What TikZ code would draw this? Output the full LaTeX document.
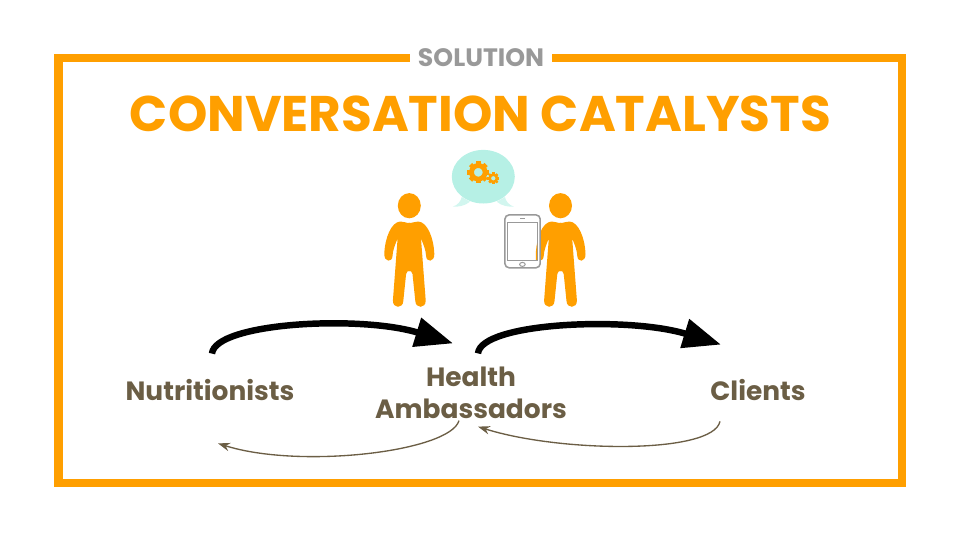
\documentclass[tikz,border=0pt]{standalone}
\usepackage{fontspec}
\setmainfont{Poppins}
\usetikzlibrary{arrows.meta}
\definecolor{Frame}{HTML}{FF9F00}
\definecolor{Umber}{HTML}{6B5E45}
\definecolor{Slate}{HTML}{999999}
\definecolor{Bubble}{HTML}{B6F0E5}
\definecolor{BubbleTail}{HTML}{D2F6EF}
\tikzset{
  bigflow/.style={-{Triangle[length=27,width=20.5]},line width=4.6,draw=black},
  thinflow/.style={-{Stealth[length=8.5,width=6]},line width=0.95,draw=Umber},
  actor/.style={align=center,text=Umber,inner sep=0pt,font=\fontsize{18.8}{22.8}\selectfont\bfseries},
  pics/person/.style={code={
    \fill[Frame] (0,205.7) ellipse (11.5 and 12.6);
    \foreach \side in {1,-1}{
      \fill[Frame,xscale=\side] (-0.5,223) .. controls (4,223) and (5,221.5) .. (9,221.5)
        .. controls (18,222) and (24.5,238) .. (25,254)
        .. controls (25.2,262.5) and (17,262.5) .. (16.8,256)
        .. controls (16.5,250) and (14,244) .. (11.7,238.5)
        -- (16.4,300.5) .. controls (16.6,308.8) and (6.3,308.8) .. (6,301)
        -- (3.2,274) .. controls (2.9,271) and (1,271) .. (-0.5,271) -- cycle;
    }
  }},
  pics/gearwheel/.style={code={
    \draw[Frame,line width=0.334*#1] (0,0) circle (0.665*#1);
    \foreach \tooth in {0,45,...,315}{
      \fill[Frame,rotate=\tooth] (-0.22*#1,0.8*#1) rectangle (0.22*#1,1.08*#1);
    }
  }},
}
\begin{document}
\begin{tikzpicture}[x={(0.025cm,0)},y={(0,-0.025cm)},line width=1]
    \useasboundingbox (0,0) rectangle (960,540);
    \draw[Frame,line width=5.9] (58.5,57.7) rectangle (902,482.7);
    \node[fill=white,inner sep=0pt,minimum width=101,minimum height=14,text=Slate,font=\fontsize{17.9}{20}\selectfont\bfseries] (solution) at (481,57.5) {SOLUTION};
    \node[text=Frame,inner sep=0pt,font=\fontsize{35.6}{42}\selectfont\bfseries] (title) at (480.5,113.5) {CONVERSATION CATALYSTS};

    \fill[BubbleTail] (452.7,206.7) .. controls (458,205) and (461,201) .. (461.7,197) -- (470,201.7) .. controls (465,206) and (458,207) .. (452.7,206.7) -- cycle;
    \fill[BubbleTail] (514,206.7) .. controls (508.7,205) and (505.7,201) .. (505,197) -- (496.7,201.7) .. controls (501.7,206) and (508.7,207) .. (514,206.7) -- cycle;
    \fill[Bubble] (483.3,176.7) ellipse (31.5 and 26.8);
    \pic at (478.3,172.3) {gearwheel=10.2};
    \pic at (493.3,178.3) {gearwheel=5.5};

    \pic at (409.3,0) {person};
    \pic at (560.5,0) {person};

    \draw[Slate,fill=white,line width=1.1,rounded corners=3] (504.9,214.9) rectangle (540.2,267.8);
    \draw[Slate,line width=0.75] (507.4,222.4) rectangle (537.6,260.3);
    \fill[Frame] (537.1,243) .. controls (536,248) and (535.6,254) .. (535.9,259.8) -- (537.1,259.8) -- cycle;
    \draw[Slate,line width=0.7] (522.4,264.4) ellipse (2.8 and 2);
    \draw[Slate,line width=0.8] (520,218.5) -- (525,218.5);

    \node[actor] (nutri) at (210,390) {Nutritionists};
    \node[actor] (health) at (471,393) {Health\\Ambassadors};
    \node[actor] (clients) at (758,390) {Clients};

    \draw[bigflow] ([shift={(2,-25)}]nutri.north) .. controls +(3,-31) and +(-93,-28.5) .. ([shift={(-18,-23)}]health.north);
    \draw[bigflow] ([shift={(7,-13)}]health.north) .. controls +(3,-31) and +(-93,-28.5) .. ([shift={(-37,-34)}]clients.north);
    \draw[thinflow] ([shift={(-12,1)}]health.south) .. controls +(-9,31) and +(82,26) .. ([shift={(8,42)}]nutri.south);
    \draw[thinflow] ([shift={(-38,20)}]clients.south) .. controls +(-7,33) and +(82,26) .. ([shift={(7,7)}]health.south);
\end{tikzpicture}
\end{document}
